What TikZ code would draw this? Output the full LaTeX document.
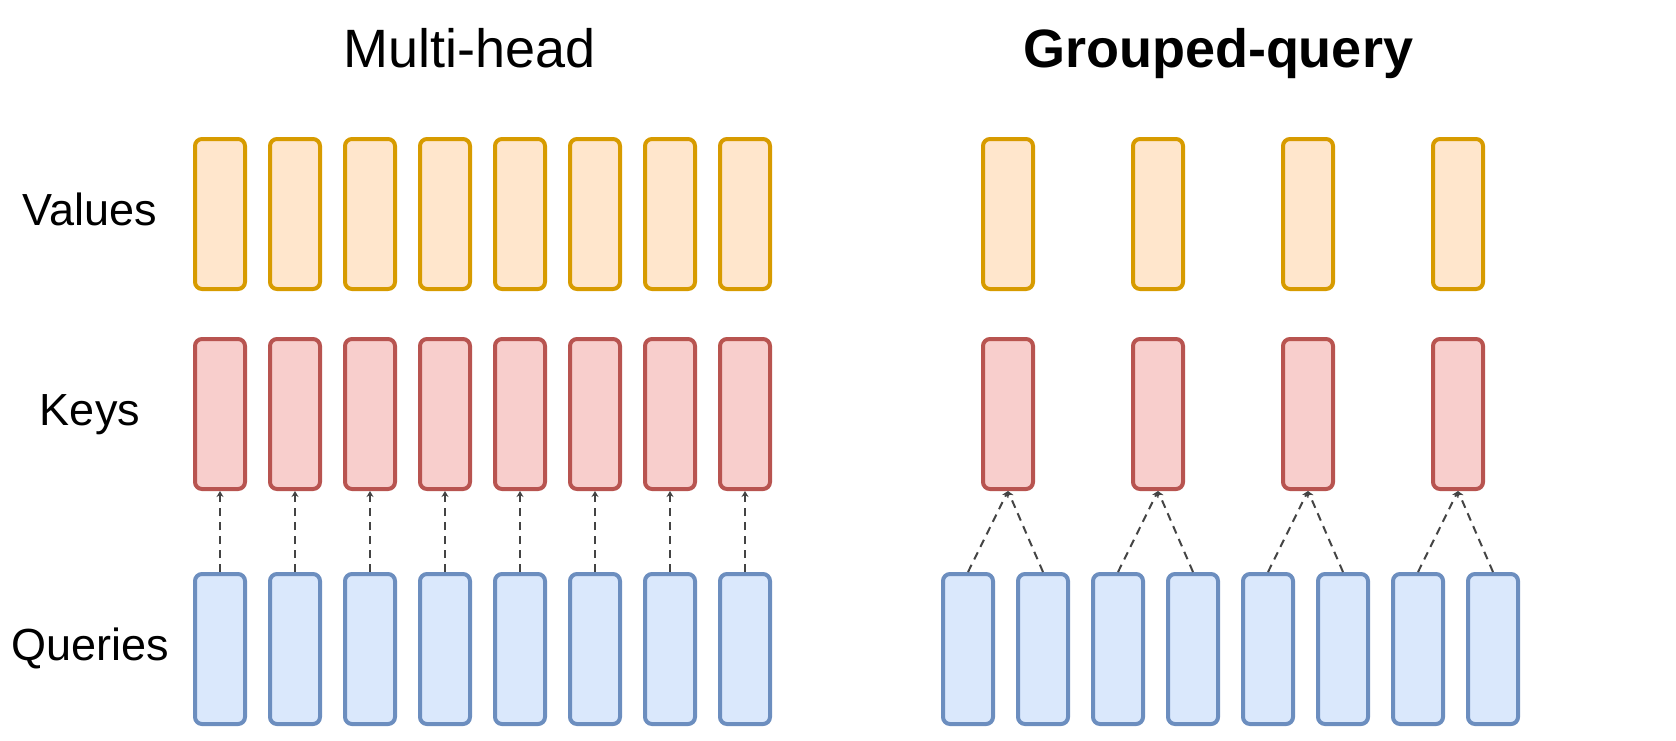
\documentclass[tikz,border=0pt]{standalone}
\usepackage{fontspec}
\setmainfont{Liberation Sans}
\usetikzlibrary{arrows.meta}
\definecolor{vfill}{HTML}{FFE6CC}
\definecolor{vdraw}{HTML}{D79B00}
\definecolor{kfill}{HTML}{F8CECC}
\definecolor{kdraw}{HTML}{B85450}
\definecolor{qfill}{HTML}{DAE8FC}
\definecolor{qdraw}{HTML}{6C8EBF}
\definecolor{conn}{HTML}{444444}
\tikzset{
  headbox/.style={draw, line width=4pt, rounded corners=7pt, minimum width=50pt, minimum height=150pt, inner sep=0pt},
  valbox/.style={headbox, fill=vfill, draw=vdraw},
  keybox/.style={headbox, fill=kfill, draw=kdraw},
  qrybox/.style={headbox, fill=qfill, draw=qdraw},
  rowlabel/.style={anchor=base, font=\fontsize{45}{52}\selectfont, inner sep=0pt},
  titlelabel/.style={anchor=base, font=\fontsize{54}{62}\selectfont, inner sep=0pt},
  link/.style={draw=conn, line width=2pt, dash pattern=on 8pt off 6pt, -{Stealth[length=6pt,width=7pt]}}
}
\begin{document}
\begin{tikzpicture}[x=1pt,y=-1pt]
\useasboundingbox (0,0) rectangle (1676,740);
% titles
\node[titlelabel] (t1) at (469.5,67) {Multi-head};
\node[titlelabel, font=\fontsize{54}{62}\selectfont\bfseries] (t2) at (1218,67) {Grouped-query};
% row labels
\node[rowlabel] (lv) at (90,225) {Values};
\node[rowlabel] (lk) at (90,425) {Keys};
\node[rowlabel] (lq) at (90,660) {Queries};
% multi-head
\foreach \i in {1,...,8}{
  \pgfmathsetmacro{\xx}{220+75*(\i-1)}
  \node[valbox] (mv\i) at (\xx,214) {};
  \node[keybox] (mk\i) at (\xx,414) {};
  \node[qrybox] (mq\i) at (\xx,649) {};
  \draw[link] (mq\i.north) -- (mk\i.south);
}
% grouped-query
\foreach \i in {1,...,4}{
  \pgfmathsetmacro{\xx}{1008+150*(\i-1)}
  \node[valbox] (gv\i) at (\xx,214) {};
  \node[keybox] (gk\i) at (\xx,414) {};
}
\foreach \i in {1,...,8}{
  \pgfmathsetmacro{\xx}{968+75*(\i-1)}
  \node[qrybox] (gq\i) at (\xx,649) {};
}
\foreach \k/\a/\b in {1/1/2,2/3/4,3/5/6,4/7/8}{
  \draw[link] (gq\a.north) -- (gk\k.south);
  \draw[link] (gq\b.north) -- (gk\k.south);
}
\end{tikzpicture}
\end{document}
